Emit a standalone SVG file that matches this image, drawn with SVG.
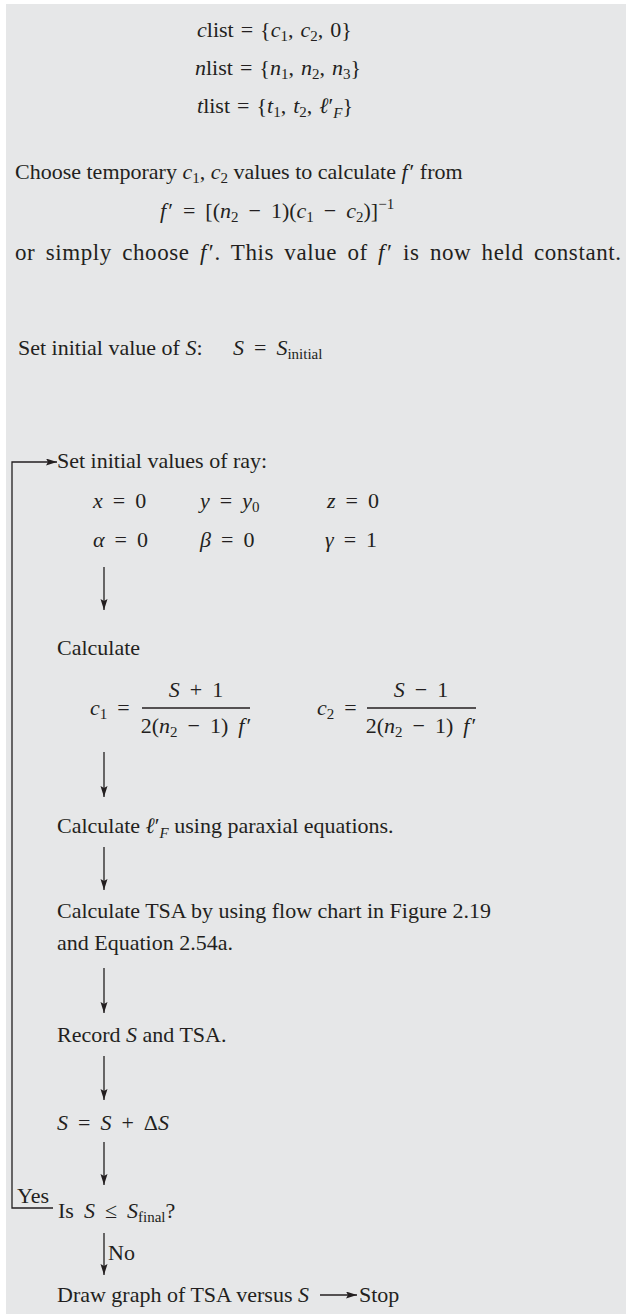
<svg xmlns="http://www.w3.org/2000/svg" width="626" height="1314" viewBox="0 0 626 1314">
<style>
text{font-family:"Liberation Serif","Times New Roman","DejaVu Serif",serif;font-size:22px;fill:#231f20}
.i{font-style:italic}
.s{font-size:15px}
.m{word-spacing:4.5px}
.l{word-spacing:1.5px}
.ln{stroke:#231f20;stroke-width:1.3;fill:none}
</style>
<defs>
<marker id="ah" markerUnits="userSpaceOnUse" markerWidth="12" markerHeight="8" refX="11" refY="3.5" orient="auto"><path d="M0,0 L11,3.5 L0,7 L2,3.5Z" fill="#231f20"/></marker>
</defs>
<rect x="6" y="4" width="620" height="1310" fill="#e6e7e8"/>
<g id="lists">
<text class="l" x="197" y="37"><tspan class="i">c</tspan>list = {<tspan class="i">c</tspan><tspan class="s" dy="4">1</tspan><tspan dy="-4">, </tspan><tspan class="i">c</tspan><tspan class="s" dy="4">2</tspan><tspan dy="-4">, 0}</tspan></text>
<text class="l" x="195" y="75"><tspan class="i">n</tspan>list = {<tspan class="i">n</tspan><tspan class="s" dy="4">1</tspan><tspan dy="-4">, </tspan><tspan class="i">n</tspan><tspan class="s" dy="4">2</tspan><tspan dy="-4">, </tspan><tspan class="i">n</tspan><tspan class="s" dy="4">3</tspan><tspan dy="-4">}</tspan></text>
<text class="l" x="197" y="113"><tspan class="i">t</tspan>list = {<tspan class="i">t</tspan><tspan class="s" dy="4">1</tspan><tspan dy="-4">, </tspan><tspan class="i">t</tspan><tspan class="s" dy="4">2</tspan><tspan dy="-4">, </tspan><tspan class="i">ℓ</tspan>′<tspan class="s i" dy="5">F</tspan><tspan dy="-5">}</tspan></text>
</g>
<g id="choose-f">
<text x="15" y="179">Choose temporary <tspan class="i">c</tspan><tspan class="s" dy="4">1</tspan><tspan dy="-4">, </tspan><tspan class="i">c</tspan><tspan class="s" dy="4">2</tspan><tspan dy="-4"> values to calculate </tspan><tspan class="i">f</tspan><tspan dx="2">′</tspan> from</text>
<text class="m" x="160" y="218"><tspan class="i">f</tspan><tspan dx="2">′</tspan> = [(<tspan class="i">n</tspan><tspan class="s" dy="4">2</tspan><tspan dy="-4"> − 1)(</tspan><tspan class="i">c</tspan><tspan class="s" dy="4">1</tspan><tspan dy="-4"> − </tspan><tspan class="i">c</tspan><tspan class="s" dy="4">2</tspan><tspan dy="-4">)]</tspan><tspan class="s" dy="-9">−1</tspan></text>
<text x="15" y="260" style="font-size:23px;word-spacing:4px" textLength="606" lengthAdjust="spacing">or simply choose <tspan class="i">f</tspan><tspan dx="2">′</tspan>. This value of <tspan class="i">f</tspan><tspan dx="2">′</tspan> is now held constant.</text>
</g>
<g id="set-s">
<text x="18" y="355">Set initial value of <tspan class="i">S</tspan>:</text>
<text class="m" x="233" y="355"><tspan class="i">S</tspan> = <tspan class="i">S</tspan><tspan class="s" dy="4">initial</tspan></text>
</g>
<g id="set-ray">
<text x="57" y="468">Set initial values of ray:</text>
<text class="m" x="93" y="508"><tspan class="i">x</tspan> = 0</text>
<text class="m" x="200" y="508"><tspan class="i">y</tspan> = <tspan class="i">y</tspan><tspan class="s" dy="4">0</tspan></text>
<text class="m" x="327" y="508"><tspan class="i">z</tspan> = 0</text>
<text class="m" x="93" y="547"><tspan class="i">α</tspan> = 0</text>
<text class="m" x="200" y="547"><tspan class="i">β</tspan> = 0</text>
<text class="m" x="325" y="547"><tspan class="i">γ</tspan> = 1</text>
</g>
<g id="calc-c">
<text x="57" y="655">Calculate</text>
<text class="m" x="90" y="715"><tspan class="i">c</tspan><tspan class="s" dy="4">1</tspan><tspan dy="-4"> =</tspan></text>
<line class="ln" x1="142" y1="708" x2="250" y2="708"/>
<text class="m" x="196" y="697" text-anchor="middle"><tspan class="i">S</tspan> + 1</text>
<text class="m" x="196" y="733" text-anchor="middle">2(<tspan class="i">n</tspan><tspan class="s" dy="4">2</tspan><tspan dy="-4"> − 1) </tspan><tspan class="i">f</tspan><tspan dx="2">′</tspan></text>
<text class="m" x="317" y="715"><tspan class="i">c</tspan><tspan class="s" dy="4">2</tspan><tspan dy="-4"> =</tspan></text>
<line class="ln" x1="367" y1="708" x2="476" y2="708"/>
<text class="m" x="421" y="697" text-anchor="middle"><tspan class="i">S</tspan> − 1</text>
<text class="m" x="421" y="733" text-anchor="middle">2(<tspan class="i">n</tspan><tspan class="s" dy="4">2</tspan><tspan dy="-4"> − 1) </tspan><tspan class="i">f</tspan><tspan dx="2">′</tspan></text>
</g>
<g id="calc-l">
<text x="57" y="833">Calculate <tspan class="i">ℓ</tspan>′<tspan class="s i" dy="5">F</tspan><tspan dy="-5"> using paraxial equations.</tspan></text>
</g>
<g id="calc-tsa">
<text x="57" y="918">Calculate TSA by using flow chart in Figure 2.19</text>
<text x="57" y="950">and Equation 2.54a.</text>
</g>
<g id="record">
<text x="57" y="1042">Record <tspan class="i">S</tspan> and TSA.</text>
</g>
<g id="increment">
<text class="m" x="57" y="1130"><tspan class="i">S</tspan> = <tspan class="i">S</tspan> + Δ<tspan class="i">S</tspan></text>
</g>
<g id="decision">
<text class="m" x="58" y="1218">Is <tspan class="i">S</tspan> ≤ <tspan class="i">S</tspan><tspan class="s" dy="4">final</tspan><tspan dy="-4">?</tspan></text>
</g>
<g id="draw-graph">
<text x="57" y="1302">Draw graph of TSA versus <tspan class="i">S</tspan></text>
</g>
<g id="stop">
<text x="359" y="1302">Stop</text>
</g>
<g id="connectors">
<line class="ln" x1="104" y1="567" x2="104" y2="610" marker-end="url(#ah)"/>
<line class="ln" x1="104" y1="752" x2="104" y2="797" marker-end="url(#ah)"/>
<line class="ln" x1="104" y1="847" x2="104" y2="890" marker-end="url(#ah)"/>
<line class="ln" x1="104" y1="968" x2="104" y2="1013" marker-end="url(#ah)"/>
<line class="ln" x1="104" y1="1056" x2="104" y2="1100" marker-end="url(#ah)"/>
<line class="ln" x1="104" y1="1142" x2="104" y2="1185" marker-end="url(#ah)"/>
<line class="ln" x1="104" y1="1233" x2="104" y2="1275" marker-end="url(#ah)"/>
<path class="ln" d="M53 1208 H12 V462 H57" marker-end="url(#ah)"/>
<line class="ln" x1="320" y1="1295" x2="357" y2="1295" marker-end="url(#ah)"/>
<text x="17" y="1203">Yes</text>
<text x="108" y="1260">No</text>
</g>
</svg>
